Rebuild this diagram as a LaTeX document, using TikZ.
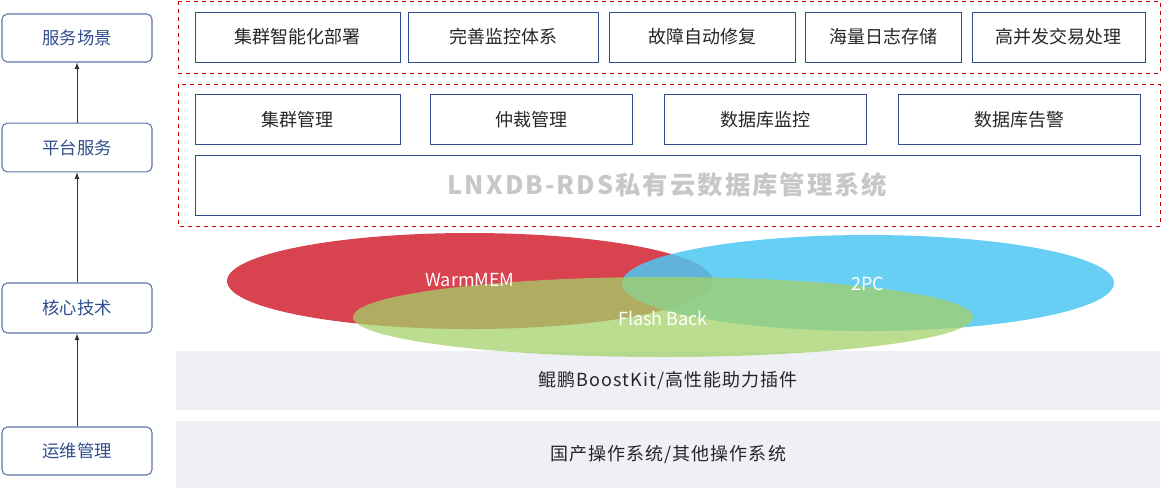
\documentclass[tikz,border=0pt]{standalone}
\usepackage{fontspec}
\setmainfont{Noto Sans CJK SC}
\begin{document}
\begin{tikzpicture}[x=0.75pt,y=-0.75pt,
 lb/.style={draw=lbc,rounded corners=4pt,line width=0.8pt,text=lbt,font=\fontsize{13}{15}\selectfont},
 bx/.style={draw=bxc,line width=0.7pt,font=\fontsize{13.5}{16}\selectfont,text=black!85},
 grp/.style={draw=red!80!black,dashed,line width=0.6pt},
 band/.style={fill=bandc,draw=none,font=\fontsize{13.5}{16}\selectfont,text=black!85},
 lbl/.style={text=white,font=\fontsize{13.5}{16}\selectfont},
 arr/.style={-latex,line width=0.7pt,black!80}]
\definecolor{lbc}{HTML}{5B74A8}\definecolor{lbt}{HTML}{2F4C8C}
\definecolor{bxc}{HTML}{2F4C8C}\definecolor{bandc}{HTML}{EEF0F5}
\definecolor{er}{HTML}{D9434F}\definecolor{eb}{HTML}{4DC7F2}\definecolor{eg}{HTML}{A3D16A}
\useasboundingbox (0,0) rectangle (1162,490);
% left column
\node[lb,minimum width=112.5pt,minimum height=36pt] (s1) at (77,38) {服务场景};
\node[lb,minimum width=112.5pt,minimum height=36.5pt] (s2) at (77,147.5) {平台服务};
\node[lb,minimum width=112.5pt,minimum height=37.5pt] (s3) at (77,308) {核心技术};
\node[lb,minimum width=112.5pt,minimum height=36pt] (s4) at (77,451) {运维管理};
\draw[arr] (s4.north) -- (s3.south);
\draw[arr] (s3.north) -- (s2.south);
\draw[arr] (s2.north) -- (s1.south);
% groups
\draw[grp] (178,1) rectangle (1160,73);
\draw[grp] (178,84) rectangle (1160,226);
\foreach \a/\b/\t/\n in {195/400/集群智能化部署/a1,408/598/完善监控体系/a2,609/795/故障自动修复/a3,805/961/海量日志存储/a4,972/1145/高并发交易处理/a5}
 \node[bx,minimum width={(\b-\a)*0.75pt},minimum height=37.5pt] (\n) at ({(\a+\b)/2},37) {\t};
\foreach \a/\b/\t/\n in {195/400/集群管理/b1,430/632/仲裁管理/b2,664/866/数据库监控/b3,898/1140/数据库告警/b4}
 \node[bx,minimum width={(\b-\a)*0.75pt},minimum height=38pt] (\n) at ({(\a+\b)/2},119.5) {\t};
\node[bx,minimum width=708.75pt,minimum height=45pt,text=black!22,font=\fontsize{19}{22}\selectfont\bfseries] (sys) at (667.5,185) {\addfontfeature{LetterSpace=8}LNXDB-RDS私有云数据库管理系统};
% bands
\node[band,minimum width=738pt,minimum height=44.25pt] (k) at (668,380.5) {\addfontfeature{LetterSpace=6}鲲鹏BoostKit/高性能助力插件};
\node[band,minimum width=738pt,minimum height=50.25pt] (os) at (668,454.5) {\addfontfeature{LetterSpace=6}国产操作系统/其他操作系统};
% ellipses
\fill[er] (470,281) ellipse [x radius=243, y radius=48];
\fill[eb,opacity=0.85] (868,283) ellipse [x radius=246, y radius=48];
\fill[eg,opacity=0.75] (663,317) ellipse [x radius=310, y radius=40];
\node[lbl] (w) at (470,280) {WarmMEM};
\node[lbl] (p) at (868,284) {2PC};
\node[lbl] (f) at (663,318) {Flash Back};
\end{tikzpicture}
\end{document}
